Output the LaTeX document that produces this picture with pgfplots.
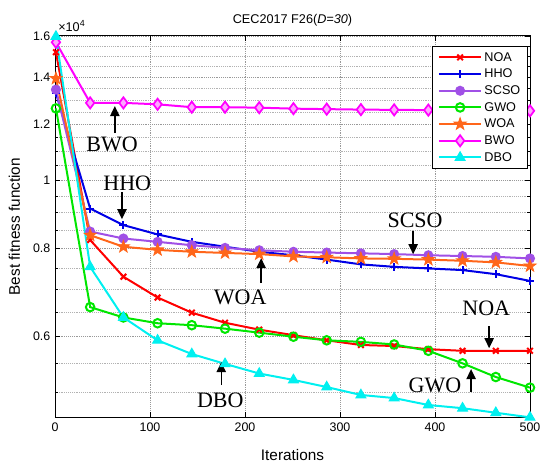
\documentclass[border=0pt]{standalone}
\usepackage{fontspec}
\setmainfont{Liberation Sans}
\newfontfamily\timesfont{Liberation Serif}
\usepackage{pgfplots}
\usepackage{pgfplotstable}
\pgfplotsset{compat=1.18}
\usetikzlibrary{arrows.meta}

\definecolor{cNOA}{RGB}{255,0,0}
\definecolor{cHHO}{RGB}{0,0,230}
\definecolor{cSCSO}{RGB}{160,80,230}
\definecolor{cGWO}{RGB}{0,230,0}
\definecolor{cWOA}{RGB}{255,102,26}
\definecolor{cBWO}{RGB}{255,0,255}
\definecolor{cDBO}{RGB}{0,240,240}

\pgfdeclareplotmark{fstar}{%
  \pgfpathmoveto{\pgfpointpolar{90}{\pgfplotmarksize}}%
  \pgfpathlineto{\pgfpointpolar{126}{0.4\pgfplotmarksize}}%
  \pgfpathlineto{\pgfpointpolar{162}{\pgfplotmarksize}}%
  \pgfpathlineto{\pgfpointpolar{198}{0.4\pgfplotmarksize}}%
  \pgfpathlineto{\pgfpointpolar{234}{\pgfplotmarksize}}%
  \pgfpathlineto{\pgfpointpolar{270}{0.4\pgfplotmarksize}}%
  \pgfpathlineto{\pgfpointpolar{306}{\pgfplotmarksize}}%
  \pgfpathlineto{\pgfpointpolar{342}{0.4\pgfplotmarksize}}%
  \pgfpathlineto{\pgfpointpolar{18}{\pgfplotmarksize}}%
  \pgfpathlineto{\pgfpointpolar{54}{0.4\pgfplotmarksize}}%
  \pgfpathclose
  \pgfusepathqfillstroke}

\pgfplotstableread{
it   NOA   HHO   SCSO  GWO   WOA   BWO   DBO
1    15200 13300 13450 12650 13950 15700 16000
37   8230  9120  8460  6610  8360  12880 7540
72   7300  8640  8270  6390  8050  12880 6390
108  6820  8380  8180  6270  7970  12820 5930
144  6490  8180  8090  6230  7920  12700 5670
179  6280  8050  8020  6160  7890  12700 5490
215  6140  7920  7960  6080  7860  12680 5320
251  6030  7830  7920  6000  7800  12640 5210
286  5930  7720  7900  5930  7780  12620 5090
322  5840  7600  7880  5900  7750  12600 4960
357  5820  7540  7860  5850  7740  12590 4910
393  5760  7500  7830  5730  7720  12580 4800
429  5730  7460  7810  5500  7690  12570 4750
464  5730  7360  7790  5260  7650  12560 4680
500  5730  7200  7750  5080  7560  12550 4610
}\data

\begin{document}
\begin{tikzpicture}
\begin{axis}[
  scale only axis, width=356.25pt, height=286.6pt,
  xmin=0, xmax=500, ymode=log, ymin=4605, ymax=16050,
  clip=false,
  xtick={0,100,...,500},
  ytick={6000,8000,10000,12000,14000,16000},
  yticklabels={0.6,0.8,1,1.2,1.4,1.6},
  minor ytick={5000,5500,6500,7000,7500,8500,9000,9500,10500,11000,11500,12500,13000,13500,14500,15000,15500},
  grid=both,
  major grid style={densely dotted, gray!80, line width=0.5pt},
  minor grid style={densely dotted, gray!60, line width=0.5pt},
  tick align=inside,
  major tick length=4pt, minor tick length=2.5pt,
  tick style={black, line width=0.5pt},
  axis line style={black, line width=0.7pt},
  tick label style={font=\fontsize{9.3}{10}\selectfont},
  /pgf/number format/assume math mode=true,
  legend cell align=left,
  legend image code/.code={\draw[mark repeat=2,mark phase=2,#1] plot coordinates {(0pt,0pt)(16pt,0pt)(32pt,0pt)};},
  legend style={at={(rel axis cs:1,1)}, anchor=north east, xshift=-1.5pt, yshift=-7.9pt,
    font=\fontsize{9.5}{11}\selectfont, draw=black, line width=0.5pt, fill=white,
    row sep=0pt, inner xsep=4pt, inner ysep=2pt,
    nodes={inner sep=1.5pt, text height=7.5pt, text depth=2pt}},
  every axis plot/.append style={line width=1.5pt},
]
\addplot[color=cNOA, mark=x, mark size=3pt] table[x=it,y=NOA]{\data};
\addlegendentry{NOA}
\addplot[color=cHHO, mark=+, mark size=3pt] table[x=it,y=HHO]{\data};
\addlegendentry{HHO}
\addplot[color=cSCSO, mark=*, mark size=3pt, mark options={fill=cSCSO}] table[x=it,y=SCSO]{\data};
\addlegendentry{SCSO}
\addplot[color=cGWO, mark=o, mark size=3.2pt] table[x=it,y=GWO]{\data};
\addlegendentry{GWO}
\addplot[color=cWOA, mark=fstar, mark size=4.8pt, mark options={fill=cWOA, line width=0.6pt}] table[x=it,y=WOA]{\data};
\addlegendentry{WOA}
\addplot[color=cBWO, mark=diamond*, mark size=4.2pt, mark options={fill=cBWO!35, line width=1.3pt}] table[x=it,y=BWO]{\data};
\addlegendentry{BWO}
\addplot[color=cDBO, mark=triangle*, mark size=4.2pt, mark options={fill=cDBO, line width=0.8pt}] table[x=it,y=DBO]{\data};
\addlegendentry{DBO}

% annotations
\begin{scope}[font=\timesfont\fontsize{16.5}{16.5}\selectfont]
\node at (axis cs:60,11260) {BWO};
\node at (axis cs:76,9909) {HHO};
\node at (axis cs:195,6827) {WOA};
\node at (axis cs:379,8781) {SCSO};
\node at (axis cs:454,6587) {NOA};
\node at (axis cs:400,5122) {GWO};
\node at (axis cs:174,4877) {DBO};
\end{scope}
\begin{scope}[line width=1pt, -{Triangle[length=7.5pt,width=7pt]}]
\draw (axis cs:63,11670) -- (axis cs:63,12745);
\draw (axis cs:70.5,9622) -- (axis cs:70.5,8810);
\draw (axis cs:217,7147) -- (axis cs:217,7757);
\draw (axis cs:377,8470) -- (axis cs:377,7858);
\draw (axis cs:457,6211) -- (axis cs:457,5779);
\draw (axis cs:438,5005) -- (axis cs:438,5397);
\draw (axis cs:175,5122) -- (axis cs:175,5522);
\end{scope}
\node[anchor=south west, inner sep=0pt, font=\fontsize{9.5}{10}\selectfont] at ([xshift=2.25pt,yshift=2.6pt]rel axis cs:0,1) {×10\textsuperscript{4}};
\end{axis}
\node[font=\fontsize{11.5}{13}\selectfont] at ([yshift=-28pt]current axis.south) {Iterations};
\node[font=\fontsize{11.5}{13}\selectfont, rotate=90] at ([xshift=-30.5pt]current axis.west) {Best fitness function};
\node[font=\fontsize{9.5}{11}\selectfont] at ([yshift=11.6pt]current axis.north) {CEC2017 F26(\textit{D=30})};
\pgfresetboundingbox
\path[use as bounding box] ([xshift=-41.25pt,yshift=-37.7pt]current axis.south west) rectangle ++(405pt,351pt);
\end{tikzpicture}
\end{document}
